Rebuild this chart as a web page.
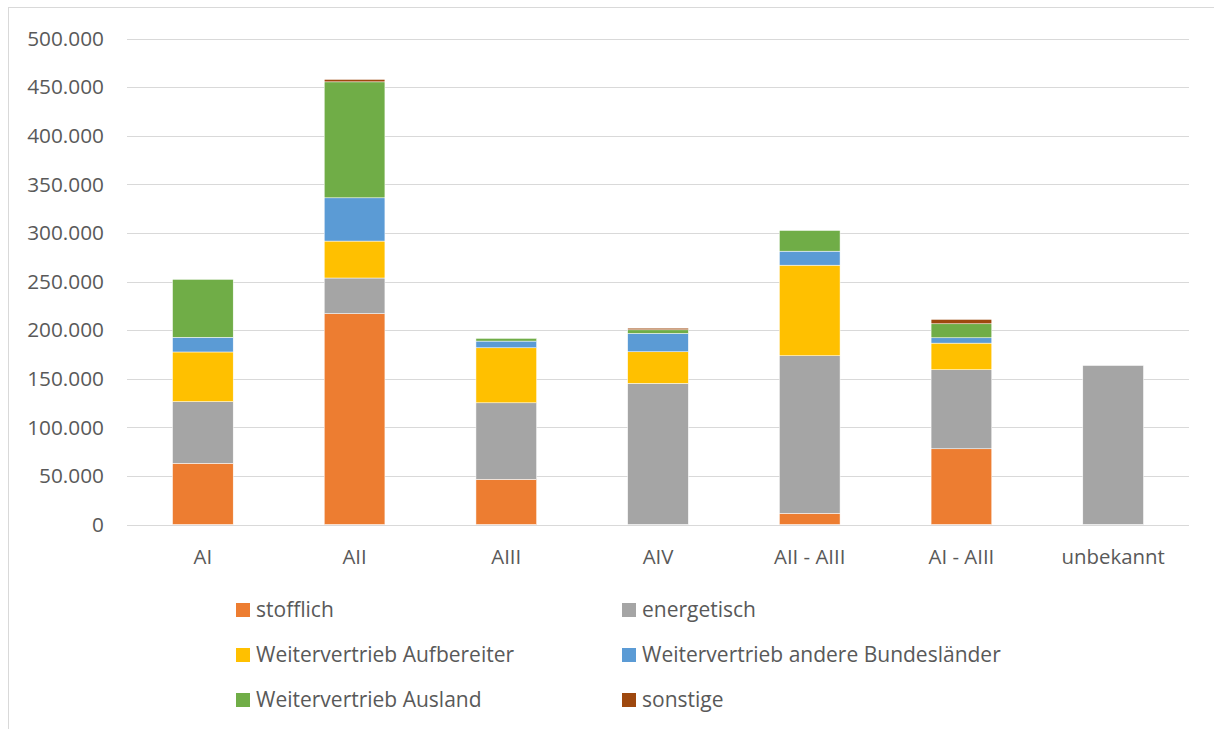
<!DOCTYPE html>
<html>
<head>
<meta charset="utf-8">
<script src="https://cdn.jsdelivr.net/npm/d3@7"></script>
<style>
  body { margin: 0; background: #fff; }
  #chart text { font-family: "Open Sans", "Noto Sans", sans-serif; fill: #595959; }
</style>
</head>
<body>
<div id="chart"></div>
<script>
const categories = ["AI", "AII", "AIII", "AIV", "AII - AIII", "AI - AIII", "unbekannt"];
const seriesNames = [
  "stofflich",
  "energetisch",
  "Weitervertrieb Aufbereiter",
  "Weitervertrieb andere Bundesländer",
  "Weitervertrieb Ausland",
  "sonstige",
];
const stofflich = [63000, 217000, 46500, 0, 11500, 77900, 0];
const energetisch = [63400, 36600, 78700, 145200, 162100, 81300, 163600];
const aufbereiter = [51100, 38000, 56600, 32500, 93200, 27400, 0];
const bundeslaender = [15100, 44500, 6900, 18900, 14400, 5500, 0];
const ausland = [59600, 119300, 2800, 3700, 21300, 14400, 0];
const sonstige = [0, 2500, 0, 1700, 0, 4500, 0];
const yTicks = [0, 50000, 100000, 150000, 200000, 250000, 300000, 350000, 400000, 450000, 500000];
const colors = ["#ED7D31", "#A5A5A5", "#FFC000", "#5B9BD5", "#70AD47", "#9E480E"];

const seriesValues = [stofflich, energetisch, aufbereiter, bundeslaender, ausland, sonstige];
const rows = categories.map((c, i) => {
  const r = { cat: c };
  seriesNames.forEach((s, j) => (r[s] = seriesValues[j][i]));
  return r;
});

const width = 1214;
const height = 729;
const margin = { left: 127, right: 25, top: 38.5, bottom: 204.5 };

const svg = d3
  .select("#chart")
  .append("svg")
  .attr("width", width)
  .attr("height", height);

// outer chart border
svg
  .append("rect")
  .attr("x", 8.5)
  .attr("y", 7.5)
  .attr("width", width)
  .attr("height", height)
  .attr("fill", "none")
  .attr("stroke", "#d9d9d9");

const x = d3
  .scaleBand()
  .domain(categories)
  .range([margin.left, width - margin.right])
  .paddingInner(0.6)
  .paddingOuter(0.3);

const y = d3
  .scaleLinear()
  .domain([0, 500000])
  .range([height - margin.bottom, margin.top]);

// gridlines
svg
  .append("g")
  .selectAll("line")
  .data(yTicks)
  .join("line")
  .attr("x1", margin.left)
  .attr("x2", width - margin.right)
  .attr("y1", (d) => Math.round(y(d)) + 0.5)
  .attr("y2", (d) => Math.round(y(d)) + 0.5)
  .attr("stroke", "#d9d9d9")
  .attr("stroke-width", 1);

// y labels
const fmt = (d) => d3.format(",")(d).replace(/,/g, ".");
svg
  .append("g")
  .selectAll("text")
  .data(yTicks)
  .join("text")
  .attr("x", 104)
  .attr("y", (d) => y(d))
  .attr("dy", "0.35em")
  .attr("text-anchor", "end")
  .style("font-size", "20.8px")
  .text(fmt);

// stacked bars
const stack = d3.stack().keys(seriesNames);
const layers = stack(rows);

svg
  .append("g")
  .selectAll("g")
  .data(layers)
  .join("g")
  .attr("fill", (d, i) => colors[i])
  .selectAll("rect")
  .data((d) => d)
  .join("rect")
  .attr("x", (d) => x(d.data.cat))
  .attr("width", x.bandwidth())
  .attr("y", (d) => y(d[1]))
  .attr("height", (d) => Math.max(0, y(d[0]) - y(d[1])))
  .attr("stroke", (d) => (d[1] > d[0] ? "#fff" : "none"))
  .attr("stroke-width", 0.5);

// bottom axis line
svg
  .append("line")
  .attr("x1", margin.left)
  .attr("x2", width - margin.right)
  .attr("y1", Math.round(y(0)) + 0.5)
  .attr("y2", Math.round(y(0)) + 0.5)
  .attr("stroke", "#d9d9d9");

// x labels
svg
  .append("g")
  .selectAll("text")
  .data(categories)
  .join("text")
  .attr("x", (d) => x(d) + x.bandwidth() / 2)
  .attr("y", 557)
  .attr("dy", "0.35em")
  .attr("text-anchor", "middle")
  .style("font-size", "20.4px")
  .text((d) => d);

// legend
const legendCols = [236, 622];
const legendRows = [610, 655, 700];
const legend = svg
  .append("g")
  .selectAll("g")
  .data(seriesNames)
  .join("g")
  .attr(
    "transform",
    (d, i) => `translate(${legendCols[i % 2]}, ${legendRows[Math.floor(i / 2)]})`
  );

legend
  .append("rect")
  .attr("x", 0)
  .attr("y", -7)
  .attr("width", 14)
  .attr("height", 14)
  .attr("fill", (d, i) => colors[i]);

legend
  .append("text")
  .attr("x", 20)
  .attr("y", 0)
  .attr("dy", "0.35em")
  .style("font-size", "21px")
  .text((d) => d);
</script>
</body>
</html>
